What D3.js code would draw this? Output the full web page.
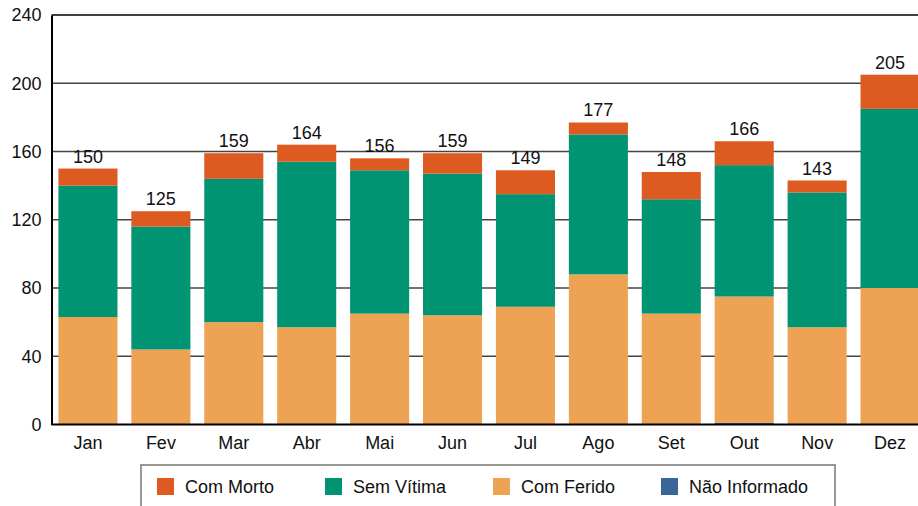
<!DOCTYPE html>
<html>
<head>
<meta charset="utf-8">
<script src="https://cdn.jsdelivr.net/npm/d3@7"></script>
<style>
  body { margin: 0; background: #fff; }
  svg { display: block; font-family: "Liberation Sans", Arial, sans-serif; }
</style>
</head>
<body>
<div id="vis"></div>
<script>
var months = ['Jan', 'Fev', 'Mar', 'Abr', 'Mai', 'Jun', 'Jul', 'Ago', 'Set', 'Out', 'Nov', 'Dez'];
var naoInformado = [0, 0, 0, 0, 0, 0, 0, 0, 0, 1, 0, 0];
var comFerido = [63, 44, 60, 57, 65, 64, 69, 88, 65, 74, 57, 80];
var semVitima = [77, 72, 84, 97, 84, 83, 66, 82, 67, 77, 79, 105];
var comMorto = [10, 9, 15, 10, 7, 12, 14, 7, 16, 14, 7, 20];
var totals = [150, 125, 159, 164, 156, 159, 149, 177, 148, 166, 143, 205];
var yTicks = [0, 40, 80, 120, 160, 200, 240];

var seriesKeys = ['naoInformado', 'comFerido', 'semVitima', 'comMorto'];
var seriesColors = {
  naoInformado: '#3a6598',
  comFerido: '#eea354',
  semVitima: '#009472',
  comMorto: '#dd5a21'
};
// legend order differs from stack order
var legendItems = [
  { key: 'comMorto', label: 'Com Morto' },
  { key: 'semVitima', label: 'Sem Vítima' },
  { key: 'comFerido', label: 'Com Ferido' },
  { key: 'naoInformado', label: 'Não Informado' }
];

var width = 918;
var height = 506;
var fontSize = 18;
var margin = { left: 51.5, top: 15, right: -8.5, bottom: 81.5 };

var table = months.map(function (m, i) {
  return {
    month: m,
    naoInformado: naoInformado[i],
    comFerido: comFerido[i],
    semVitima: semVitima[i],
    comMorto: comMorto[i],
    total: totals[i]
  };
});

var svg = d3.select('#vis')
  .append('svg')
  .attr('width', width)
  .attr('height', height);

var x = d3.scaleBand()
  .domain(months)
  .range([margin.left, width - margin.right])
  .paddingInner(0.19)
  .paddingOuter(0.095);

var y = d3.scaleLinear()
  .domain([0, 240])
  .range([height - margin.bottom, margin.top]);

// grid lines
svg.append('g')
  .selectAll('line')
  .data(yTicks.slice(1))
  .enter()
  .append('line')
  .attr('x1', margin.left)
  .attr('x2', width)
  .attr('y1', function (d) { return y(d); })
  .attr('y2', function (d) { return y(d); })
  .attr('stroke', function (d) { return d === 240 ? '#000' : '#444'; })
  .attr('stroke-width', 1.5);

var stack = d3.stack().keys(seriesKeys);
var layers = stack(table);

svg.append('g')
  .selectAll('g')
  .data(layers)
  .enter()
  .append('g')
  .attr('fill', function (d) { return seriesColors[d.key]; })
  .selectAll('rect')
  .data(function (d) { return d; })
  .enter()
  .append('rect')
  .attr('x', function (d) { return x(d.data.month); })
  .attr('width', x.bandwidth())
  .attr('y', function (d) { return y(d[1]); })
  .attr('height', function (d) { return y(d[0]) - y(d[1]); });

// total labels
svg.append('g')
  .selectAll('text')
  .data(table)
  .enter()
  .append('text')
  .attr('x', function (d) { return x(d.month) + x.bandwidth() / 2; })
  .attr('y', function (d) { return y(d.total) - 6; })
  .attr('text-anchor', 'middle')
  .attr('font-size', fontSize)
  .attr('fill', '#111')
  .text(function (d) { return d.total; });

// axes
var yAxis = svg.append('g')
  .attr('transform', 'translate(' + margin.left + ',0)')
  .call(d3.axisLeft(y).tickValues(yTicks).tickSize(0).tickPadding(10));
yAxis.select('.domain').attr('stroke', '#000').attr('stroke-width', 2);
yAxis.selectAll('text').attr('font-size', fontSize).attr('fill', '#111')
  .attr('font-family', '"Liberation Sans", Arial, sans-serif');

var xAxis = svg.append('g')
  .attr('transform', 'translate(0,' + y(0) + ')')
  .call(d3.axisBottom(x).tickSize(0).tickPadding(12));
xAxis.select('.domain').attr('stroke', '#000').attr('stroke-width', 2)
  .attr('d', 'M' + margin.left + ',0H' + width);
xAxis.selectAll('text').attr('font-size', fontSize).attr('fill', '#111')
  .attr('font-family', '"Liberation Sans", Arial, sans-serif');

// legend
var legend = svg.append('g').attr('class', 'legend');
legend.append('rect')
  .attr('x', 141)
  .attr('y', 465)
  .attr('width', 694)
  .attr('height', 60)
  .attr('fill', '#fff')
  .attr('stroke', '#777')
  .attr('stroke-width', 1.5);

var item = legend.selectAll('g.item')
  .data(legendItems)
  .enter()
  .append('g')
  .attr('class', 'item')
  .attr('transform', function (d, i) { return 'translate(' + (157 + i * 168) + ',478)'; });

item.append('rect')
  .attr('width', 17)
  .attr('height', 17)
  .attr('fill', function (d) { return seriesColors[d.key]; });

item.append('text')
  .attr('x', 28)
  .attr('y', 15)
  .attr('font-size', fontSize)
  .attr('fill', '#111')
  .text(function (d) { return d.label; });
</script>
</body>
</html>
